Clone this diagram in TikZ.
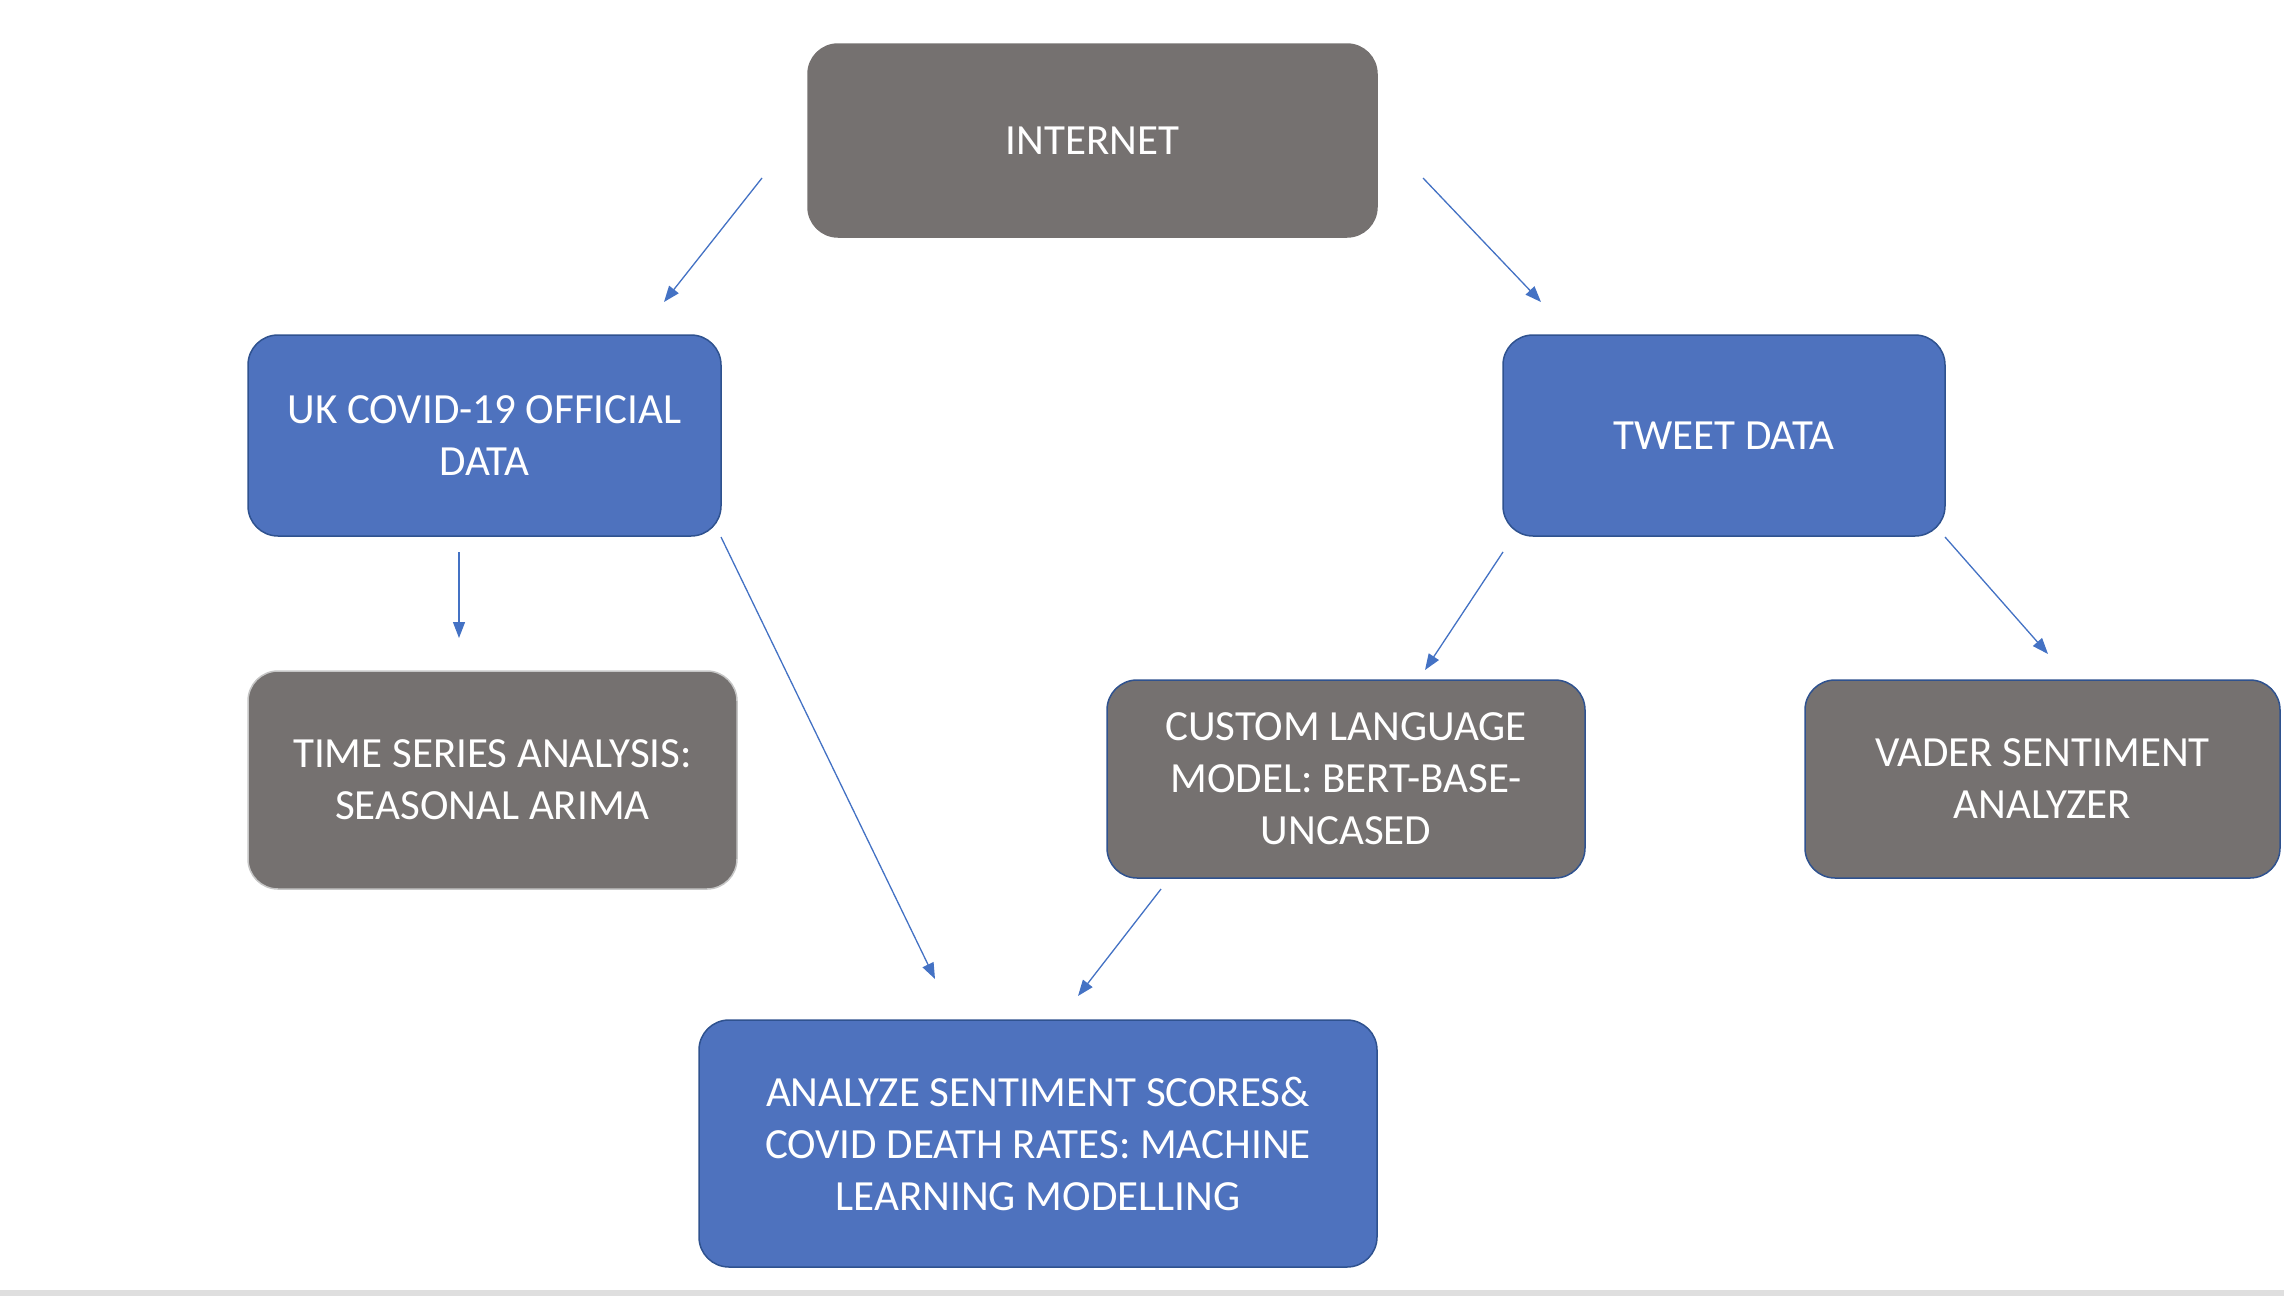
\documentclass[tikz,border=0pt]{standalone}
\usepackage{fontspec}
\setmainfont{Carlito}
\usetikzlibrary{arrows.meta}
\definecolor{boxgray}{HTML}{757170}
\definecolor{boxblue}{HTML}{4E72BE}
\definecolor{edgeblue}{HTML}{2F528F}
\definecolor{arrowblue}{HTML}{4472C4}
\tikzset{
  flowbox/.style={rectangle, rounded corners=30pt, align=center, text=white,
    font=\fontsize{43}{52}\selectfont, inner sep=0pt, line width=1.5pt},
  bluebox/.style={flowbox, fill=boxblue, draw=edgeblue},
  graybox/.style={flowbox, fill=boxgray, draw=edgeblue},
  flowarrow/.style={draw=arrowblue, line width=1.3pt, -{Triangle[length=16pt,width=12pt]}, fill=arrowblue}
}
\begin{document}
\begin{tikzpicture}[x=1pt,y=-1pt]
\useasboundingbox (0,0) rectangle (2284,1296);
\fill[gray!25] (0,1290) rectangle (2284,1296);

\node[graybox, draw=boxgray, minimum width=569pt, minimum height=193pt] (internet) at (1092.5,140.5) {INTERNET};
\node[bluebox, minimum width=473pt, minimum height=201pt] (uk) at (484.5,435.5) {UK COVID-19 OFFICIAL\\DATA};
\node[bluebox, minimum width=442pt, minimum height=201pt] (tweet) at (1724,435.5) {TWEET DATA};
\node[graybox, draw=gray!45, minimum width=489pt, minimum height=218pt] (time) at (492.5,780) {TIME SERIES ANALYSIS:\\SEASONAL ARIMA};
\node[graybox, minimum width=478pt, minimum height=198pt] (custom) at (1346,779) {CUSTOM LANGUAGE\\MODEL: BERT-BASE-\\UNCASED};
\node[graybox, minimum width=475pt, minimum height=198pt] (vader) at (2042.5,779) {VADER SENTIMENT\\ANALYZER};
\node[bluebox, minimum width=678pt, minimum height=247pt] (analyze) at (1038,1143.5) {ANALYZE SENTIMENT SCORES\&\\COVID DEATH RATES: MACHINE\\LEARNING MODELLING};

\coordinate (a1s) at (762,178);   \coordinate (a1e) at (664,302);
\coordinate (a2s) at (1423,178);  \coordinate (a2e) at (1541,302);
\coordinate (a3s) at (459,552);   \coordinate (a3e) at (459,638);
\coordinate (a4s) at (721,537);   \coordinate (a4e) at (935,979);
\coordinate (a5s) at (1503,552);  \coordinate (a5e) at (1425,670);
\coordinate (a6s) at (1945,537);  \coordinate (a6e) at (2048,654);
\coordinate (a7s) at (1161,889);  \coordinate (a7e) at (1078,996);

\draw[flowarrow] (a1s) -- (a1e);
\draw[flowarrow] (a2s) -- (a2e);
\draw[flowarrow] (a3s) -- (a3e);
\draw[flowarrow] (a4s) -- (a4e);
\draw[flowarrow] (a5s) -- (a5e);
\draw[flowarrow] (a6s) -- (a6e);
\draw[flowarrow] (a7s) -- (a7e);
\end{tikzpicture}
\end{document}
